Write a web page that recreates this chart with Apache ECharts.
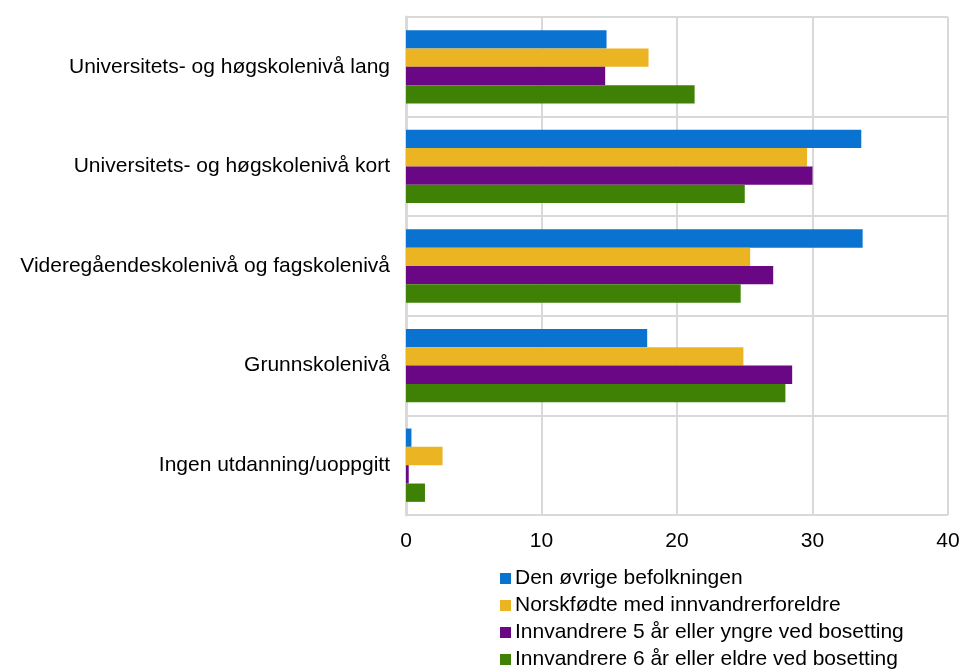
<!DOCTYPE html>
<html>
<head>
<meta charset="utf-8">
<script src="https://cdn.jsdelivr.net/npm/echarts@6/dist/echarts.min.js"></script>
<style>
  html, body { margin: 0; padding: 0; background: #fff; }
  #container { width: 966px; height: 670px; }
</style>
</head>
<body>
<div id="container"></div>
<script>
var categories = [
    'Universitets- og høgskolenivå lang',
    'Universitets- og høgskolenivå kort',
    'Videregåendeskolenivå og fagskolenivå',
    'Grunnskolenivå',
    'Ingen utdanning/uoppgitt'
];
var seriesNames = [
    'Den øvrige befolkningen',
    'Norskfødte med innvandrerforeldre',
    'Innvandrere 5 år eller yngre ved bosetting',
    'Innvandrere 6 år eller eldre ved bosetting'
];
var ovrige = [14.8, 33.6, 33.7, 17.8, 0.4];
var norskfodte = [17.9, 29.6, 25.4, 24.9, 2.7];
var yngre = [14.7, 30.0, 27.1, 28.5, 0.2];
var eldre = [21.3, 25.0, 24.7, 28.0, 1.4];
var colors = ['#0A72D0', '#EBB423', '#6A0784', '#3F8104'];

var dom = document.getElementById('container');
var myChart = echarts.init(dom, null, { renderer: 'canvas' });

var values = [ovrige, norskfodte, yngre, eldre];
var series = [];
for (let i in seriesNames) {
    series.push({
        name: seriesNames[i],
        type: 'bar',
        data: values[i],
        barGap: '0%',
        barCategoryGap: '26.4%',
        itemStyle: { color: colors[i] },
        emphasis: { disabled: true }
    });
}

var option = {
    animation: false,
    textStyle: { fontFamily: 'Liberation Sans, Arial, sans-serif' },
    color: colors,
    grid: {
        left: 406,
        right: 18,
        top: 17,
        bottom: 155
    },
    legend: {
        orient: 'vertical',
        left: 500,
        top: 568,
        padding: 0,
        itemWidth: 11,
        itemHeight: 11,
        itemGap: 6,
        icon: 'rect',
        textStyle: { fontSize: 21, color: '#000', padding: [0, 0, 0, -1] },
        data: seriesNames
    },
    xAxis: {
        type: 'value',
        min: 0,
        max: 40,
        interval: 10,
        axisLine: { show: false },
        axisTick: { show: false },
        axisLabel: { fontSize: 21, color: '#000', margin: 16 },
        splitLine: { lineStyle: { color: '#d9d9d9', width: 2 } }
    },
    yAxis: {
        type: 'category',
        inverse: true,
        data: categories,
        axisLine: { show: true, lineStyle: { color: '#d9d9d9', width: 3 } },
        axisTick: { show: false },
        axisLabel: { fontSize: 21, color: '#000', margin: 16 },
        splitLine: { show: true, lineStyle: { color: '#d9d9d9', width: 2 } }
    },
    series: series
};

myChart.setOption(option);
window.addEventListener('resize', myChart.resize);
</script>
</body>
</html>
